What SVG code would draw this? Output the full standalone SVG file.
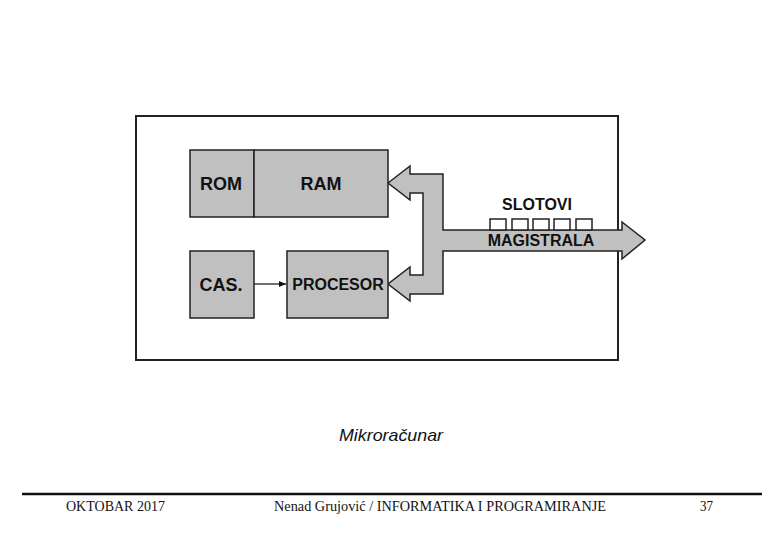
<svg xmlns="http://www.w3.org/2000/svg" width="780" height="540" viewBox="0 0 780 540">
<style>
.box{fill:#c0c0c0;stroke:#222;stroke-width:1.5}
.lbl{font-family:"Liberation Sans",Arial,sans-serif;font-weight:bold;fill:#111;text-anchor:middle}
.foot{font-family:"Liberation Serif","Times New Roman",serif;font-size:14px;fill:#111}
</style>
<defs>
<marker id="ah" markerWidth="8" markerHeight="8" refX="7" refY="4" orient="auto" markerUnits="userSpaceOnUse">
<path d="M0,1 L7,4 L0,7 Z" fill="#111"/>
</marker>
</defs>
<rect width="780" height="540" fill="#fff"/>
<g id="frame"><rect x="136" y="116" width="482" height="244" fill="#fff" stroke="#222" stroke-width="2"/></g>
<g id="bus">
<path class="box" d="M388,183 L410,166 L410,174 L443,174 L443,230 L622,230 L622,222 L645,240 L622,259 L622,251 L443,251 L443,294 L410,294 L410,301 L388,284 L410,267 L410,275 L423,275 L423,193 L410,193 L410,200 Z"/>
<text class="lbl" x="541" y="246" font-size="16">MAGISTRALA</text>
</g>
<g id="slots" fill="#fff" stroke="#222" stroke-width="1.5">
<rect x="490" y="219" width="16" height="11"/>
<rect x="512" y="219" width="16" height="11"/>
<rect x="533" y="219" width="16" height="11"/>
<rect x="554" y="219" width="16" height="11"/>
<rect x="576" y="219" width="16" height="11"/>
<text class="lbl" x="537" y="210" font-size="16" stroke="none">SLOTOVI</text>
</g>
<g id="rom"><rect class="box" x="190" y="150" width="64" height="67"/><text class="lbl" x="221" y="190" font-size="18">ROM</text></g>
<g id="ram"><rect class="box" x="254" y="150" width="134" height="67"/><text class="lbl" x="321" y="190" font-size="18">RAM</text></g>
<g id="cas"><rect class="box" x="190" y="251" width="64" height="67"/><text class="lbl" x="221" y="291" font-size="18">CAS.</text></g>
<g id="procesor"><rect class="box" x="287" y="251" width="101" height="67"/><text class="lbl" x="338" y="290" font-size="16">PROCESOR</text></g>
<g id="connectors"><line x1="254" y1="284" x2="286" y2="284" stroke="#111" stroke-width="1.2" marker-end="url(#ah)"/></g>
<text x="391" y="441" font-family="Liberation Sans,Arial,sans-serif" font-style="italic" font-size="17" text-anchor="middle" fill="#111" textLength="104" lengthAdjust="spacingAndGlyphs">Mikroračunar</text>
<line x1="22" y1="494" x2="762" y2="494" stroke="#111" stroke-width="2.5"/>
<text class="foot" x="66" y="511" textLength="99" lengthAdjust="spacingAndGlyphs">OKTOBAR 2017</text>
<text class="foot" x="274" y="511" textLength="332" lengthAdjust="spacingAndGlyphs">Nenad Grujović /  INFORMATIKA I PROGRAMIRANJE</text>
<text class="foot" x="700" y="511" textLength="13" lengthAdjust="spacingAndGlyphs">37</text>
</svg>
